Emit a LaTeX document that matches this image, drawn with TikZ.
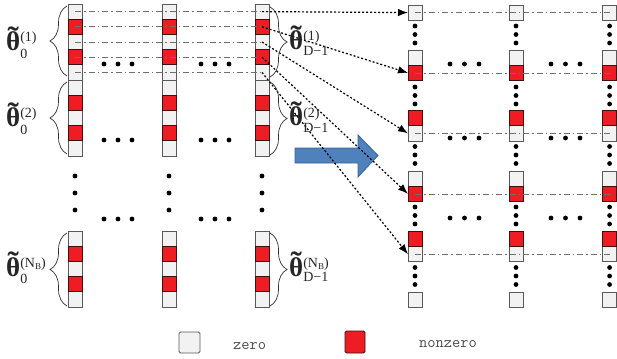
\documentclass[tikz,border=0pt]{standalone}
\usepackage{fontspec}
\setmainfont{Liberation Serif}
\usetikzlibrary{decorations.pathreplacing,arrows.meta}
\definecolor{cgrey}{HTML}{F2F2F2}
\definecolor{cred}{HTML}{EE1D23}
\definecolor{cblue}{HTML}{4F81BD}
\definecolor{cbluedark}{HTML}{3A6496}
\definecolor{bord}{HTML}{595959}
\definecolor{redbord}{HTML}{3A1010}
\definecolor{dashc}{HTML}{6F6F6F}
\newcommand{\bth}{\textbf{\ooalign{θ\cr\hidewidth\raisebox{0.13em}{\scalebox{1.25}[1.1]{˜}}\hidewidth\cr}}}
\newcommand{\lab}[3]{\bth{\fontsize{14}{14}\selectfont\setbox0\hbox{#1}\setbox2\hbox{#2}%
  \ifdim\wd0>\wd2 \dimen0=\wd0 \else \dimen0=\wd2 \fi
  \rlap{\raisebox{9pt}{\copy0}}\rlap{\raisebox{-#3}{\copy2}}\hspace{\dimen0}}}
\newcommand{\NB}{(N\raisebox{-2pt}{\fontsize{9}{9}\selectfont B})}
\begin{document}
\begin{tikzpicture}[x=1pt,y=-1pt,
 cell/.style={draw=bord, line width=0.8pt, minimum width=14pt, minimum height=15.2pt, inner sep=0pt, outer sep=0pt},
 zc/.style={cell, fill=cgrey},
 nz/.style={cell, fill=cred, draw=redbord},
 dd/.style={draw=dashc, line width=0.7pt, dash pattern=on 6pt off 3pt on 1.5pt off 3pt},
 dotarr/.style={line width=1.2pt, dash pattern=on 2pt off 2pt, -{Latex[length=10pt,width=7.5pt]}},
 bigdot/.style={circle, fill=black, inner sep=0pt, minimum size=4.8pt},
 brc/.style={draw=black!80, line width=0.7pt, decorate, decoration={brace, amplitude=17pt}},
 lab/.style={font=\fontsize{27}{27}\selectfont, text=black!85, inner sep=0pt, anchor=base west},
 leg/.style={font=\ttfamily\fontsize{16}{16}\selectfont, text=black!70, inner sep=0pt, anchor=base west}]
\useasboundingbox (0,0) rectangle (617,358);

% left columns
\foreach \c/\xx in {1/75,2/169,3/262}{
  \foreach \i in {1,3,5,6,8,10}{
    \node[zc] (L\c-\i) at (\xx,{4+15.2*(\i-0.5)}) {};
  }
  \foreach \i in {2,4,7,9}{
    \node[nz] (L\c-\i) at (\xx,{4+15.2*(\i-0.5)}) {};
  }
  \foreach \j in {1,3,5}{
    \node[zc] (B\c-\j) at (\xx,{231+15.2*(\j-0.5)}) {};
  }
  \foreach \j in {2,4}{
    \node[nz] (B\c-\j) at (\xx,{231+15.2*(\j-0.5)}) {};
  }
  \foreach \yy in {176,193,210}{
    \node[bigdot] at (\xx,\yy) {};
  }
}
% left horizontal dots
\foreach \yy in {64,140,219}{
  \foreach \xx in {104,118,132,201,215,229}{
    \node[bigdot] at (\xx,\yy) {};
  }
}

% right columns
\foreach \c/\xx in {1/415,2/516,3/609.6}{
  \foreach \k/\yy in {1/12.6,2/57.6,5/133.4,6/178.6,9/254.2,10/299.6}{
    \node[zc] (R\c-\k) at (\xx,\yy) {};
  }
  \foreach \k/\yy in {3/72.9,4/118.1,7/193.9,8/238.9}{
    \node[nz] (R\c-\k) at (\xx,\yy) {};
  }
  \foreach \yy in {26,34.5,43,87,95.5,104,146.5,155,163.5,207,215.5,224,267.5,276,284.5}{
    \node[bigdot] at (\xx,\yy) {};
  }
}
% right horizontal dots
\foreach \yy in {64,138,218}{
  \foreach \xx in {450,464.5,479,551,565.5,580}{
    \node[bigdot] at (\xx,\yy) {};
  }
}

% dash-dot lines
\foreach \i in {1,...,5}{
  \draw[dd] (L1-\i.center) -- (L3-\i.center);
}
\foreach \k in {1,3,5,7,9}{
  \draw[dd] (R1-\k.center) -- (R3-\k.center);
}

% big blue arrow
\draw[fill=cblue, draw=cbluedark, line width=0.8pt]
  (295,148) -- (358,148) -- (358,135) -- (378,155.5) -- (358,177) -- (358,163) -- (295,163) -- cycle;

% dotted arrows
\draw[dotarr] (L3-1.center) -- (R1-1.west);
\draw[dotarr] (L3-2.center) -- (R1-3.west);
\draw[dotarr] (L3-3.center) -- (R1-5.west);
\draw[dotarr] (L3-4.center) -- (R1-7.west);
\draw[dotarr] (L3-5.center) -- (R1-9.west);

% braces
\draw[brc] (67,76) -- (67,6);
\draw[brc] (67,154) -- (67,82);
\draw[brc] (67,306) -- (67,233);
\draw[brc] (270,7) -- (270,77);
\draw[brc] (270,82) -- (270,155);
\draw[brc] (270,233) -- (270,306);

% labels
\node[lab] (l1) at (6,51) {\lab{(1)}{0}{8pt}};
\node[lab] (l2) at (6,127) {\lab{(2)}{0}{8pt}};
\node[lab] (l3) at (6,276) {\lab{\NB}{0}{7pt}};
\node[lab] (r1) at (289,50) {\lab{(1)}{D−1}{6pt}};
\node[lab] (r2) at (289,126) {\lab{(2)}{D−1}{6pt}};
\node[lab] (r3) at (289,276) {\lab{\NB}{D−1}{5.5pt}};

% legend
\node[zc, minimum width=21pt, minimum height=21pt, rounded corners=1.5pt] (lgz) at (189.5,342.5) {};
\node[leg] (tz) at (233,349) {zero};
\node[nz, minimum width=20pt, minimum height=22pt, rounded corners=1.5pt] (lgn) at (355,342) {};
\node[leg] (tn) at (419,347) {nonzero};
\end{tikzpicture}
\end{document}
